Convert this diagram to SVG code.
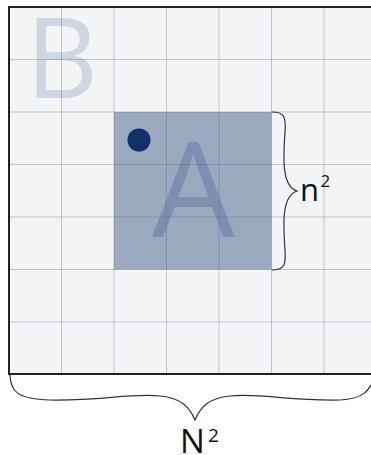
<svg xmlns="http://www.w3.org/2000/svg" width="371" height="455" viewBox="0 0 371 455">
<style>
.grid line{stroke:#5a6478;stroke-opacity:0.33;stroke-width:1}
.brace{fill:none;stroke:#333;stroke-width:1.2}
.lbl{font-family:"Open Sans","Noto Sans",sans-serif;fill:#111}
.big{font-family:"Open Sans","Noto Sans",sans-serif;text-anchor:middle}
</style>
<rect x="0" y="0" width="371" height="455" fill="#ffffff"/>
<g id="B">
<rect x="9" y="7" width="370" height="367" fill="#f3f4f6"/>
<text class="big" x="62" y="98" font-size="112" fill="#d0d6e0">B</text>
</g>
<g id="A">
<rect x="114" y="112" width="157.5" height="157.5" fill="#9aa8c0"/>
<text class="big" x="193.5" y="237" font-size="131" fill="#7e8eae">A</text>
</g>
<g class="grid">
<line x1="61.5" y1="7" x2="61.5" y2="374"/>
<line x1="114" y1="7" x2="114" y2="374"/>
<line x1="166.5" y1="7" x2="166.5" y2="374"/>
<line x1="219" y1="7" x2="219" y2="374"/>
<line x1="271.5" y1="7" x2="271.5" y2="374"/>
<line x1="324" y1="7" x2="324" y2="374"/>
<line x1="9" y1="59.5" x2="380" y2="59.5"/>
<line x1="9" y1="112" x2="380" y2="112"/>
<line x1="9" y1="164.5" x2="380" y2="164.5"/>
<line x1="9" y1="217" x2="380" y2="217"/>
<line x1="9" y1="269.5" x2="380" y2="269.5"/>
<line x1="9" y1="322" x2="380" y2="322"/>
</g>
<g id="dot">
<circle cx="139" cy="140" r="11.5" fill="#13306a"/>
</g>
<rect x="9" y="7" width="380" height="367" fill="none" stroke="#222" stroke-width="2"/>
<g id="connectors">
<path class="brace" d="M272,112 C285,112 286,118 285,132 C283,160 282,186 297,191 C282,196 283,222 285,250 C286,264 285,270 272,270"/>
<path class="brace" d="M10,374 C10,392 18,399 50,400 C100,401 130,393 160,396 C182,398 190,408 195,420 C200,408 208,398 230,396 C260,393 290,401 340,400 C362,399 370,392 376,374"/>
</g>
<g id="n2">
<text class="lbl" x="300" y="201" font-size="31">n</text>
<text class="lbl" x="320.5" y="187.3" font-size="17">2</text>
</g>
<g id="N2">
<text class="lbl" x="180" y="452.6" font-size="33">N</text>
<text class="lbl" x="208" y="441.7" font-size="19">2</text>
</g>
</svg>
